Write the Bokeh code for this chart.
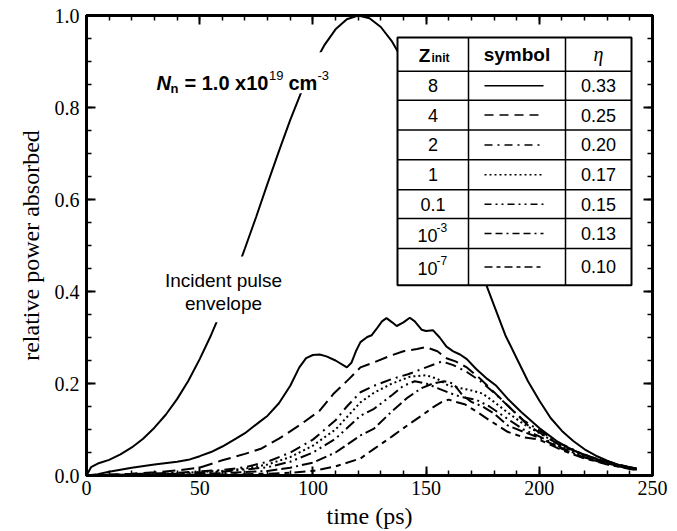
from bokeh.plotting import figure
from bokeh.models import LinearAxis, Range1d, FixedTicker
from bokeh.core.properties import value
from bokeh.embed import file_html
from bokeh.resources import INLINE

# ---------------- data ----------------
x_ticks = [0, 50, 100, 150, 200, 250]
x_minor = [0, 10, 20, 30, 40, 50, 60, 70, 80, 90, 100, 110, 120, 130, 140, 150,
           160, 170, 180, 190, 200, 210, 220, 230, 240, 250]
y_ticks = [0.0, 0.2, 0.4, 0.6, 0.8, 1.0]
y_tick_labels = ["0.0", "0.2", "0.4", "0.6", "0.8", "1.0"]
y_minor = [0.0, 0.05, 0.1, 0.15, 0.2, 0.25, 0.3, 0.35, 0.4, 0.45, 0.5, 0.55, 0.6,
           0.65, 0.7, 0.75, 0.8, 0.85, 0.9, 0.95, 1.0]

env_t = [0, 2, 5, 10, 15, 20, 25, 30, 35, 40, 45, 50, 55, 60, 65, 70, 75, 80, 85,
         90, 95, 100, 105, 110, 115, 120, 125, 130, 135, 140, 145, 150, 155, 160,
         165, 170, 175, 180, 185, 190, 195, 200, 205, 210, 215, 220, 225, 230,
         235, 240, 243]
env_p = [0.0, 0.018, 0.026, 0.034, 0.046, 0.061, 0.080, 0.104, 0.132, 0.166,
         0.206, 0.253, 0.305, 0.363, 0.426, 0.494, 0.563, 0.635, 0.705, 0.773,
         0.835, 0.890, 0.935, 0.970, 0.992, 1.0, 0.994, 0.975, 0.943, 0.900,
         0.847, 0.786, 0.719, 0.649, 0.575, 0.500, 0.435, 0.370, 0.305, 0.255,
         0.205, 0.163, 0.125, 0.097, 0.075, 0.057, 0.043, 0.032, 0.023, 0.017,
         0.015]

z8_t = [0, 5, 10, 20, 30, 40, 45, 50, 55, 60, 66, 70, 76, 80, 85, 90, 94, 97,
        100, 103, 106, 110, 115, 117, 119, 121, 124, 126, 128, 130.5, 132.5, 135,
        137, 140, 142.8, 145, 148, 150, 153, 156, 159, 162, 165, 168, 172, 177,
        181, 186, 192, 200, 209, 218, 227, 236, 243]
z8_p = [0.0, 0.003, 0.008, 0.017, 0.024, 0.030, 0.034, 0.042, 0.051, 0.063,
        0.080, 0.092, 0.115, 0.130, 0.157, 0.195, 0.235, 0.255, 0.262, 0.263,
        0.259, 0.250, 0.235, 0.245, 0.270, 0.290, 0.301, 0.305, 0.318, 0.335,
        0.342, 0.333, 0.325, 0.333, 0.343, 0.335, 0.317, 0.314, 0.316, 0.300,
        0.280, 0.270, 0.263, 0.253, 0.232, 0.210, 0.195, 0.167, 0.138, 0.103,
        0.070, 0.048, 0.033, 0.022, 0.015]

z4_t = [0, 20, 30, 40, 50, 60, 70, 77, 85, 94, 103, 109, 116, 121, 127, 134,
        140, 146, 150, 155, 159, 163, 168, 174, 183, 195, 209, 224, 239, 243]
z4_p = [0.0, 0.004, 0.007, 0.011, 0.017, 0.033, 0.047, 0.058, 0.080, 0.109,
        0.141, 0.177, 0.210, 0.235, 0.246, 0.260, 0.270, 0.275, 0.279, 0.270,
        0.255, 0.248, 0.235, 0.210, 0.167, 0.109, 0.066, 0.038, 0.019, 0.015]

z2_t = [0, 20, 40, 60, 70, 80, 90, 100, 110, 115, 121, 127, 135, 142, 150, 157,
        162, 168, 174, 180, 186, 193, 200, 210, 220, 230, 240, 243]
z2_p = [0.0, 0.003, 0.006, 0.012, 0.018, 0.030, 0.050, 0.078, 0.120, 0.150,
        0.181, 0.195, 0.210, 0.220, 0.235, 0.248, 0.240, 0.225, 0.205, 0.180,
        0.152, 0.120, 0.098, 0.068, 0.045, 0.029, 0.017, 0.014]

z1_t = [0, 20, 40, 60, 70, 80, 90, 100, 110, 121, 127, 135, 143, 150, 155, 160,
        165, 170, 175, 180, 186, 193, 200, 210, 220, 230, 240, 243]
z1_p = [0.0, 0.002, 0.005, 0.010, 0.015, 0.024, 0.040, 0.065, 0.100, 0.159,
        0.180, 0.200, 0.215, 0.218, 0.210, 0.195, 0.190, 0.185, 0.178, 0.160,
        0.137, 0.112, 0.092, 0.064, 0.043, 0.027, 0.016, 0.014]

z01_t = [0, 40, 60, 80, 90, 100, 110, 121, 127, 135, 140, 145, 150, 155, 160,
         166, 172, 178, 186, 193, 200, 210, 220, 230, 240, 243]
z01_p = [0.0, 0.004, 0.008, 0.018, 0.030, 0.050, 0.080, 0.130, 0.145, 0.175,
         0.195, 0.205, 0.200, 0.190, 0.180, 0.170, 0.165, 0.150, 0.123, 0.100,
         0.085, 0.060, 0.040, 0.026, 0.015, 0.013]

z1e3_t = [0, 40, 60, 80, 90, 100, 110, 121, 127, 135, 142, 148, 153, 158, 162,
          166, 170, 175, 180, 186, 193, 200, 210, 220, 230, 240, 243]
z1e3_p = [0.0, 0.002, 0.005, 0.010, 0.017, 0.028, 0.050, 0.087, 0.102, 0.140,
          0.170, 0.190, 0.200, 0.205, 0.200, 0.175, 0.160, 0.150, 0.135, 0.109,
          0.095, 0.082, 0.058, 0.039, 0.025, 0.015, 0.013]

z1e7_t = [0, 60, 80, 90, 100, 110, 121, 127, 135, 142, 148, 153, 157, 160, 163,
          167, 172, 178, 186, 193, 200, 210, 220, 230, 240, 243]
z1e7_p = [0.0, 0.002, 0.004, 0.006, 0.010, 0.020, 0.037, 0.058, 0.085, 0.110,
          0.130, 0.148, 0.160, 0.165, 0.160, 0.155, 0.140, 0.120, 0.095, 0.083,
          0.078, 0.055, 0.037, 0.024, 0.014, 0.012]

z_labels = ["8", "4", "2", "1", "0.1", "10", "10"]
z_sups = ["", "", "", "", "", "-3", "-7"]
eta_labels = ["0.33", "0.25", "0.20", "0.17", "0.15", "0.13", "0.10"]

series_t = [z8_t, z4_t, z2_t, z1_t, z01_t, z1e3_t, z1e7_t]
series_p = [z8_p, z4_p, z2_p, z1_p, z01_p, z1e3_p, z1e7_p]

# ---------------- styles / layout ----------------
dashes = ["solid", "13 6", "11 5 2 5", "2 3", "11 4 2 4 2 4", "11 4 11 4 2 4",
          "11 5 5 5"]
sym_dashes = ["solid", "9 6", "8 5 2 5", "2 3", "7 4 2 4 2 4",
              "7 4 7 4 2 4", "8 4 4 4"]

W, H = 677, 531
FL, FR, FT, FB = 86, 652, 15, 477          # frame edges in pixels
XMAX, YMAX = 250.0, 1.0


def dx(px):
    return (px - FL) / (FR - FL) * XMAX


def dy(py):
    return (FB - py) / (FB - FT) * YMAX


SANS = "Liberation Sans"
SERIF = "Liberation Serif"

p = figure(width=W, height=H, x_range=Range1d(0, XMAX), y_range=Range1d(0, YMAX),
           output_backend="svg", toolbar_location=None,
           min_border_left=FL, min_border_right=W - FR,
           min_border_top=FT, min_border_bottom=H - FB,
           background_fill_color="white", border_fill_color="white",
           outline_line_color="black", outline_line_width=3)
p.grid.visible = False

p.xaxis.axis_label = "time (ps)"
p.yaxis.axis_label = "relative power absorbed"
p.add_layout(LinearAxis(), "above")
p.add_layout(LinearAxis(), "right")

for ax in p.xaxis:
    ax.ticker = FixedTicker(ticks=x_ticks, minor_ticks=x_minor)
for ax in p.yaxis:
    ax.ticker = FixedTicker(ticks=y_ticks, minor_ticks=y_minor)
    ax.major_label_overrides = {t: s for t, s in zip(y_ticks, y_tick_labels)}

for ax in p.axis:
    ax.axis_line_width = 3
    ax.axis_line_color = "black"
    ax.major_tick_in = 9
    ax.major_tick_out = 0
    ax.minor_tick_in = 5
    ax.minor_tick_out = 0
    ax.major_tick_line_width = 2
    ax.minor_tick_line_width = 1.5
    ax.major_label_text_font = SERIF
    ax.major_label_text_font_size = "20px"
    ax.major_label_text_color = "black"
    ax.axis_label_text_font = SERIF
    ax.axis_label_text_font_size = "24px"
    ax.axis_label_text_font_style = "normal"
    ax.axis_label_text_color = "black"

p.xaxis[0].major_label_standoff = 3
p.xaxis[0].axis_label_standoff = 0
p.yaxis[0].major_label_standoff = 7
p.yaxis[0].axis_label_standoff = 8
for ax in (p.above[0], p.right[0]):
    ax.major_label_text_font_size = "0px"
    ax.major_label_text_color = None
    ax.major_label_standoff = 0

# curves
p.line(env_t, env_p, line_color="black", line_width=2)
for t, v, d in zip(series_t, series_p, dashes):
    p.line(t, v, line_color="black", line_width=2, line_dash=d)

# white boxes behind annotations (the envelope is interrupted there)
p.quad(left=[dx(150), dx(160)], right=[dx(332), dx(290)],
       top=[dy(52), dy(257)], bottom=[dy(93), dy(323)],
       fill_color="white", line_color=None)

# N_n annotation
p.text(x=[dx(156)], y=[dy(83)], text=["N"], text_font=value(SANS),
       text_font_size=value("20px"), text_font_style="bold italic",
       text_baseline="alphabetic", text_color="black")
p.text(x=[dx(170)], y=[dy(88)], text=["n"], text_font=value(SANS),
       text_font_size=value("13px"), text_font_style="bold",
       text_baseline="alphabetic", text_color="black")
p.text(x=[dx(184), dx(288)], y=[dy(83), dy(83)], text=["= 1.0 x10", "cm"],
       text_font=value(SANS), text_font_size=value("20px"),
       text_font_style="bold", text_baseline="alphabetic", text_color="black")
p.text(x=[dx(268.5), dx(317)], y=[dy(75), dy(75)], text=["19", "-3"],
       text_font=value(SANS), text_font_size=value("13px"),
       text_baseline="alphabetic", text_color="black")

# incident pulse label
p.text(x=[dx(223), dx(223)], y=[dy(281), dy(304)],
       text=["Incident pulse", "envelope"], text_font=value(SANS),
       text_font_size=value("19px"), text_align="center",
       text_baseline="middle", text_color="black")

# ---------------- table ----------------
TX = [dx(397), dx(468), dx(565), dx(631)]
TYP = [37, 71, 100, 130, 160, 190, 219, 249, 286]
TY = [dy(v) for v in TYP]

p.quad(left=[TX[0]], right=[TX[3]], top=[TY[0]], bottom=[TY[-1]],
       fill_color="white", line_color=None)
p.segment(x0=[TX[0]] * 7, x1=[TX[3]] * 7, y0=TY[1:-1], y1=TY[1:-1],
          line_color="black", line_width=1.5)
p.segment(x0=[TX[1], TX[2]], x1=[TX[1], TX[2]], y0=[TY[0]] * 2,
          y1=[TY[-1]] * 2, line_color="black", line_width=1.5)
p.quad(left=[TX[0]], right=[TX[3]], top=[TY[0]], bottom=[TY[-1]],
       fill_color=None, line_color="black", line_width=2)

hy = (TYP[0] + TYP[1]) / 2
# header
p.text(x=[dx(424)], y=[dy(hy + 1)], text=["Z"], text_font=value(SANS),
       text_font_size=value("19px"), text_font_style="bold",
       text_align="center", text_baseline="middle", text_color="black")
p.text(x=[dx(431)], y=[dy(hy + 4)], text=["init"], text_font=value(SANS),
       text_font_size=value("12px"), text_font_style="bold",
       text_align="left", text_baseline="middle", text_color="black")
p.text(x=[dx(516.5)], y=[dy(hy)], text=["symbol"], text_font=value(SANS),
       text_font_size=value("19px"), text_font_style="bold",
       text_align="center", text_baseline="middle", text_color="black")
p.text(x=[dx(598)], y=[dy(hy)], text=["η"], text_font=value(SERIF),
       text_font_size=value("20px"), text_font_style="italic",
       text_align="center", text_baseline="middle", text_color="black")

for i in range(7):
    cy = (TYP[i + 1] + TYP[i + 2]) / 2
    if z_sups[i]:
        p.text(x=[dx(437)], y=[dy(cy + 2)], text=[z_labels[i]],
               text_font=value(SANS), text_font_size=value("18px"),
               text_align="right", text_baseline="middle", text_color="black")
        p.text(x=[dx(436)], y=[dy(cy - 6)], text=[z_sups[i]],
               text_font=value(SANS), text_font_size=value("12px"),
               text_align="left", text_baseline="middle", text_color="black")
    else:
        p.text(x=[dx(432.5)], y=[dy(cy)], text=[z_labels[i]],
               text_font=value(SANS), text_font_size=value("18px"),
               text_align="center", text_baseline="middle", text_color="black")
    p.line([dx(484), dx(543)], [dy(cy), dy(cy)], line_color="black",
           line_width=1.5, line_dash=sym_dashes[i])
    p.text(x=[dx(598)], y=[dy(cy)], text=[eta_labels[i]],
           text_font=value(SANS), text_font_size=value("18px"),
           text_align="center", text_baseline="middle", text_color="black")

open("out.html", "w").write(file_html(p, INLINE))
